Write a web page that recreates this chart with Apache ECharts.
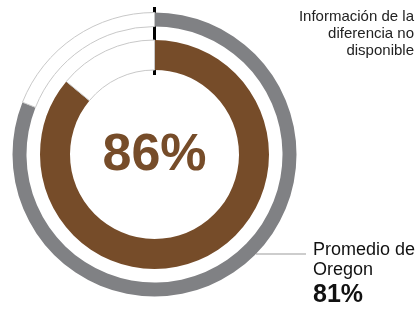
<!DOCTYPE html>
<html>
<head>
<meta charset="UTF-8">
<title></title>
<style>
  html, body { margin: 0; padding: 0; background: #fff; }
  #main { width: 420px; height: 311px; }
</style>
<script src="https://cdn.jsdelivr.net/npm/echarts@6/dist/echarts.min.js"></script>
</head>
<body>
<div id="main"></div>
<script>
// valores del gráfico
var escuelaValor = 86;      // anillo interior (marrón)
var oregonValor = 81;       // anillo exterior (gris)
var oregonTitulo = ['Promedio de', 'Oregon'];
var notaDiferencia = ['Información de la', 'diferencia no', 'disponible'];

var myChart = echarts.init(document.getElementById('main'));

var cx = 154.5, cy = 154.5;
var fuente = '"Liberation Sans", Arial, sans-serif';
var restoStyle = { color: '#fff', borderColor: '#c8c8c8', borderWidth: 1 };

option = {
    animation: false,
    series: [
        {
            type: 'pie',
            center: [cx, cy],
            radius: [128, 142],
            startAngle: 90,
            clockwise: true,
            silent: true,
            label: { show: false },
            labelLine: { show: false },
            data: [
                { value: oregonValor, itemStyle: { color: '#808184' } },
                { value: 100 - oregonValor, itemStyle: restoStyle }
            ]
        },
        {
            type: 'pie',
            center: [cx, cy],
            radius: [84.5, 114.5],
            startAngle: 90,
            clockwise: true,
            silent: true,
            label: { show: false },
            labelLine: { show: false },
            data: [
                { value: escuelaValor, itemStyle: { color: '#764c29' } },
                { value: 100 - escuelaValor, itemStyle: restoStyle }
            ]
        }
    ],
    graphic: [
        // texto cortado arriba a la izquierda
        { type: 'text', left: 13, top: -12,
          style: { text: 'en 2021-22.', font: '15px ' + fuente, fill: '#222' } },
        // marca de inicio
        { type: 'line', shape: { x1: cx, y1: 7, x2: cx, y2: 75 },
          style: { stroke: '#000', lineWidth: 3 } },
        // valor central
        { type: 'text', x: cx, y: cy + 1,
          style: { text: escuelaValor + '%', font: 'bold 52px ' + fuente,
                   fill: '#764c29', align: 'center', verticalAlign: 'middle' } },
        // nota arriba a la derecha
        { type: 'text', x: 414, y: 8,
          style: { text: notaDiferencia.join('\n'), font: '15px ' + fuente,
                   fill: '#222', align: 'right', lineHeight: 17 } },
        // línea guía hacia el promedio de Oregon
        { type: 'line', shape: { x1: 256, y1: 254, x2: 306, y2: 254 },
          style: { stroke: '#bdbdbd', lineWidth: 1.5 } },
        { type: 'text', x: 313, y: 240,
          style: { text: oregonTitulo.join('\n'), font: '18px ' + fuente,
                   fill: '#111', lineHeight: 20 } },
        { type: 'text', x: 313, y: 283,
          style: { text: oregonValor + '%', font: 'bold 25px ' + fuente,
                   fill: '#111' } }
    ]
};

myChart.setOption(option, true);
</script>
</body>
</html>
